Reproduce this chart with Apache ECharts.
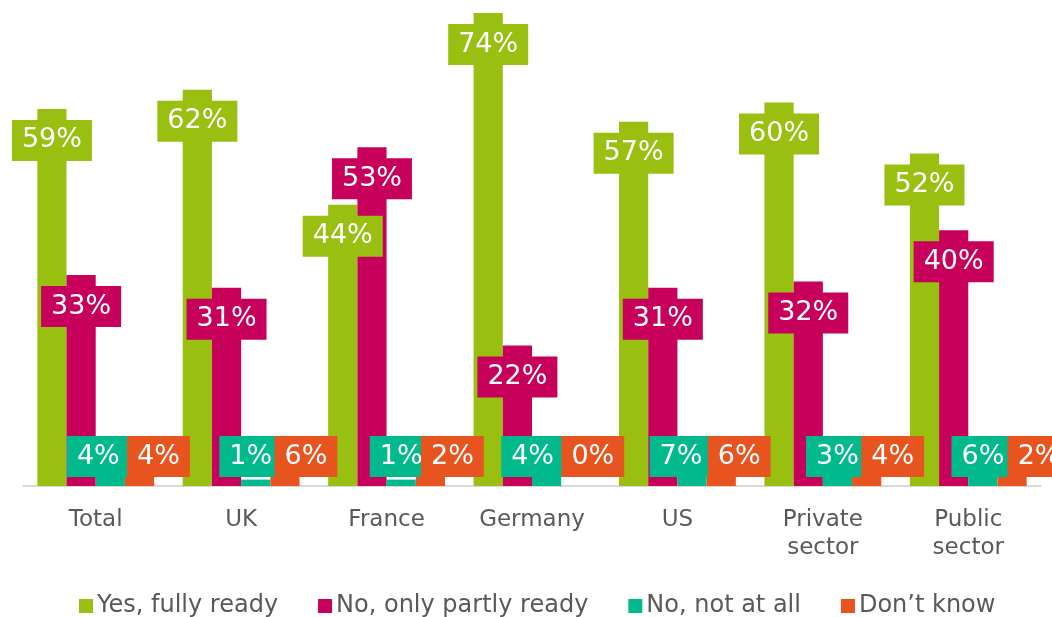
<!DOCTYPE html>
<html>
<head>
<meta charset="utf-8">
<script src="https://cdn.jsdelivr.net/npm/echarts@6/dist/echarts.min.js"></script>
<style>
html,body{margin:0;padding:0;background:#fff;}
#c{width:1052px;height:617px;}
</style>
</head>
<body>
<div id="c"></div>
<script>
const categories = ['Total', 'UK', 'France', 'Germany', 'US', 'Private\nsector', 'Public\nsector'];
const seriesNames = ['Yes, fully ready', 'No, only partly ready', 'No, not at all', 'Don\u2019t know'];
const yesFully = [59, 62, 44, 74, 57, 60, 52];
const partly = [33, 31, 53, 22, 31, 32, 40];
const notAtAll = [4, 1, 1, 4, 7, 3, 6];
const dontKnow = [4, 6, 2, 0, 6, 4, 2];
const colors = ['#99BF10', '#C7005B', '#00BA8E', '#E85420'];

// label horizontal nudges (style only), per series per category
const labelShiftX = [
  [0, 0, 0, 0, 0, 0, 0],
  [0, 0, 0, 0, 0, 0, 0],
  [-12, -5, 0, -14, -11, 0, 0],
  [19, 21, 22, 17, 18, 26, 27]
];

const FONT = 'Verdana, "DejaVu Sans", sans-serif';
const yMax = 74;
const plotH = 473;
const labelH = 41, topDist = 11, botDist = 9;

function makeData(vals, si) {
  return vals.map((v, ci) => {
    const h = v / yMax * plotH;
    const small = h < labelH + topDist + botDist;
    const lab = small ? {position: 'insideBottom', distance: botDist} : {position: 'insideTop', distance: topDist};
    lab.offset = [labelShiftX[si][ci], 0];
    return {value: v, label: lab};
  });
}

const allVals = [yesFully, partly, notAtAll, dontKnow];
const series = allVals.map((vals, i) => ({
  name: seriesNames[i],
  type: 'bar',
  barWidth: 29.2,
  barGap: '0%',
  itemStyle: {color: colors[i]},
  data: makeData(vals, i),
  label: {
    show: true,
    formatter: '{c}%',
    color: '#fff',
    fontFamily: FONT,
    fontSize: 27,
    lineHeight: 31,
    backgroundColor: colors[i],
    padding: [5, 10, 5, 10]
  }
}));

const chart = echarts.init(document.getElementById('c'), null, {renderer: 'canvas'});
chart.setOption({
  animation: false,
  color: colors,
  grid: {left: 23, width: 1018, top: 13, height: plotH},
  legend: {
    data: seriesNames,
    left: 79,
    top: 594,
    padding: 0,
    icon: 'rect',
    itemWidth: 14,
    itemHeight: 14,
    itemGap: 40,
    textStyle: {color: '#595959', fontFamily: FONT, fontSize: 24, padding: [0,0,0,-1]}
  },
  xAxis: {
    type: 'category',
    data: categories,
    axisLine: {show: true, lineStyle: {color: '#D9D9D9', width: 2}},
    axisTick: {show: false},
    axisLabel: {color: '#595959', fontFamily: FONT, fontSize: 23, lineHeight: 28, margin: 20}
  },
  yAxis: {
    type: 'value',
    min: 0,
    max: yMax,
    show: false,
    splitLine: {show: false}
  },
  series: series
});
</script>
</body>
</html>
